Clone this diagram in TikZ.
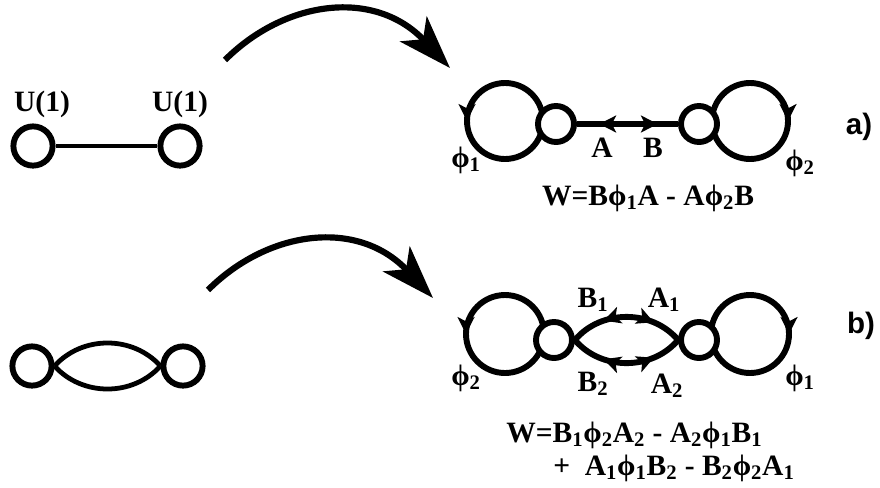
\documentclass[tikz,border=0pt]{standalone}
\usepackage{fontspec}
\setmainfont{Liberation Serif}
\newfontfamily\panelfont{Liberation Sans}
\usetikzlibrary{arrows.meta,decorations.markings}
\tikzset{
  gnode/.style={circle, draw, line width=4.2pt, fill=white, minimum size=0.9cm, inner sep=0pt},
  qnode/.style={gnode, minimum size=0.98cm},
  fld/.style={line width=4.2pt},
  lnk/.style={line width=3.4pt},
  lbl/.style={font=\bfseries\fontsize{21}{23}\selectfont, inner sep=0pt},
  panel/.style={font=\panelfont\bfseries\fontsize{21}{23}\selectfont, inner sep=0pt},
  bigarr/.style={line width=4.4pt, -{Stealth[length=38pt, width=26pt, inset=10pt]}},
  looptip/.tip={Stealth[length=12pt, width=12pt, inset=3pt]},
  midtip/.style={decoration={markings, mark=at position #1 with {\arrow{looptip}}}, postaction=decorate},
  bothtip/.style 2 args={decoration={markings,
      mark=at position #1 with {\arrowreversed{looptip}},
      mark=at position #2 with {\arrow{looptip}}}, postaction=decorate},
}
\begin{document}
\begin{tikzpicture}[x=0.025cm, y=-0.025cm]
\useasboundingbox (0,0) rectangle (880,487);
% quiver before the mapping
\node[qnode] (ua) at (33,146) {};
\node[qnode] (ub) at (180,146) {};
\draw[lnk] (ua) -- (ub);
\node[lbl] (una) at (42,104) {U(1)};
\node[lbl] (unb) at (180,104) {U(1)};
\node[qnode] (va) at (32,366) {};
\node[qnode] (vb) at (183,366) {};
\draw[lnk] (va.east) to[bend left=48] (vb.west);
\draw[lnk] (va.east) to[bend right=48] (vb.west);
% mapping arrows
\coordinate (mapa) at (225,60);
\coordinate (mapae) at (450,68);
\draw[bigarr] (mapa) .. controls (285,0) and (375,-12) .. (mapae);
\coordinate (mapb) at (208,290);
\coordinate (mapbe) at (433,298);
\draw[bigarr] (mapb) .. controls (268,230) and (358,218) .. (mapbe);
% a) adjoint loops
\draw[fld, midtip=0.25] (505,83) arc[start angle=-90, end angle=-450, radius=38];
\draw[fld, midtip=0.25] (750,83) arc[start angle=-90, end angle=270, radius=38];
\node[gnode] (pa) at (556,124) {};
\node[gnode] (pb) at (699,124) {};
\draw[fld, bothtip={0.22}{0.8}] (pa) -- (pb);
\node[lbl] (fa1) at (466,160) {ϕ\textsubscript{1}};
\node[lbl] (fa2) at (800,163) {ϕ\textsubscript{2}};
\node[lbl] (la) at (602,148) {A};
\node[lbl] (lb) at (653,148) {B};
\node[lbl] (wa) at (648,198) {W=Bϕ\textsubscript{1}A - Aϕ\textsubscript{2}B};
\node[panel] (pnla) at (859,127) {a)};
% b) adjoint loops
\draw[fld, midtip=0.25] (505,295) arc[start angle=-90, end angle=-450, radius=39];
\draw[fld, midtip=0.25] (750,295) arc[start angle=-90, end angle=270, radius=39];
\node[gnode] (qa) at (554,340) {};
\node[gnode] (qb) at (699,340) {};
\draw[fld, bothtip={0.3}{0.74}] (qa.east) to[bend left=50] (qb.west);
\draw[fld, bothtip={0.3}{0.74}] (qa.east) to[bend right=50] (qb.west);
\node[lbl] (fb2) at (466,378) {ϕ\textsubscript{2}};
\node[lbl] (fb1) at (800,378) {ϕ\textsubscript{1}};
\node[lbl] (lb1) at (593,300) {B\textsubscript{1}};
\node[lbl] (la1) at (664,300) {A\textsubscript{1}};
\node[lbl] (lb2) at (593,384) {B\textsubscript{2}};
\node[lbl] (la2) at (667,386) {A\textsubscript{2}};
\node[lbl, anchor=west] (wb1) at (506,435) {W=B\textsubscript{1}ϕ\textsubscript{2}A\textsubscript{2} - A\textsubscript{2}ϕ\textsubscript{1}B\textsubscript{1}};
\node[lbl, anchor=west] (wb2) at (553,468) {+\ \ A\textsubscript{1}ϕ\textsubscript{1}B\textsubscript{2} - B\textsubscript{2}ϕ\textsubscript{2}A\textsubscript{1}};
\node[panel] (pnlb) at (861,326) {b)};
\end{tikzpicture}
\end{document}
